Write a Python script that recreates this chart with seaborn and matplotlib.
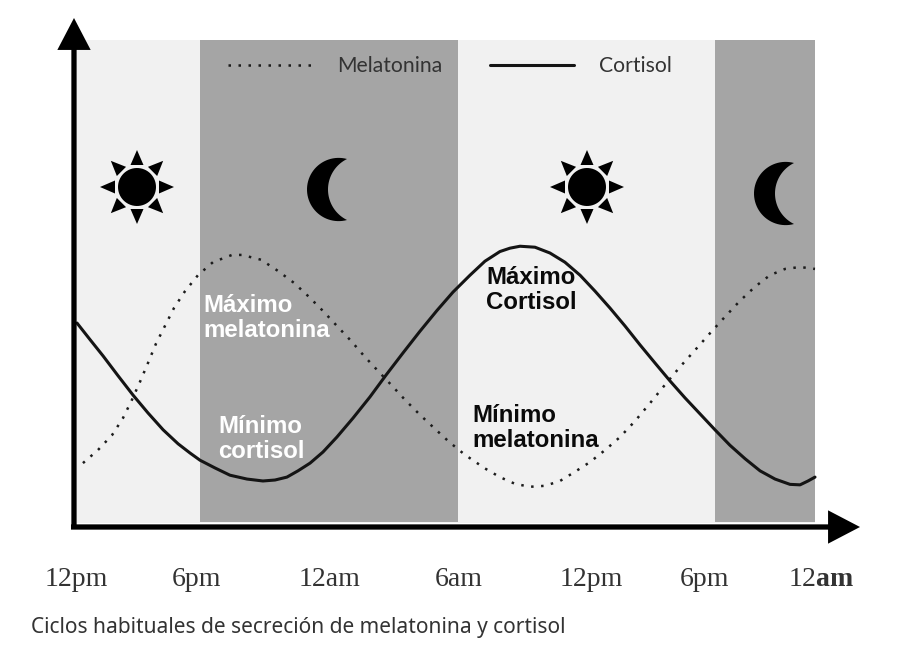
import numpy as np
import pandas as pd
import seaborn as sns
import matplotlib.pyplot as plt
from matplotlib.patches import Polygon

# hours since the first 12pm, level on a 0-100 scale
cortisol_hours = [0, 0.63, 1.27, 2.0, 2.73, 3.46, 4.2, 4.93, 5.51, 6.0, 6.73, 7.46, 8.29, 9.07, 9.66,
                  10.24, 10.78, 11.37, 12.0, 12.68, 13.46, 14.29, 15.07, 15.9, 16.73, 17.56, 18.34,
                  19.17, 19.9, 20.63, 21.12, 21.61, 22.34, 23.07, 23.8, 24.54, 25.27, 26.0, 26.73, 27.46,
                  28.2, 28.93, 29.66, 30.39, 31.12, 31.85, 32.59, 33.32, 34.05, 34.78, 35.27, 35.66, 36]
cortisol_level = [41.4, 38.0, 34.6, 30.5, 26.5, 22.8, 19.3, 16.4, 14.5, 13.0, 11.4, 9.9, 9.1, 8.7, 8.9,
                  9.5, 10.8, 12.4, 14.7, 17.8, 21.7, 26.1, 30.6, 35.2, 39.7, 44.0, 47.8,
                  51.3, 54.2, 56.2, 56.9, 57.3, 57.1, 55.9, 54.0, 51.3, 48.0, 44.5, 40.8, 36.9,
                  33.1, 29.4, 25.9, 22.6, 19.3, 16.1, 13.3, 10.8, 9.1, 8.0, 7.9, 8.7, 9.5]
melatonin_hours = [0.29, 1.02, 1.71, 2.24, 2.68, 3.07, 3.46, 3.85, 4.29, 4.73, 5.27, 5.9, 6.63, 7.56, 8.05,
                   8.98, 9.8, 10.59, 11.32, 12.0, 12.68, 13.37, 14.0, 14.68, 15.37, 16.0, 16.73, 17.41,
                   18.15, 18.93, 19.9, 20.63, 21.37, 22.1, 22.83, 23.56, 24.29, 25.02, 25.76, 26.49,
                   27.22, 27.95, 28.68, 29.41, 30.15, 30.88, 31.61, 32.34, 33.07, 33.8, 34.54, 35.27, 36]
melatonin_level = [12.4, 15.1, 18.2, 21.7, 25.5, 29.2, 33.1, 37.1, 40.8, 44.5, 48.0, 51.3, 54.0, 55.5, 55.5,
                   54.5, 52.2, 49.7, 46.8, 43.9, 40.8, 37.7, 34.6, 31.5, 28.4, 25.5, 22.4, 19.7,
                   16.8, 14.1, 11.3, 9.5, 8.1, 7.5, 7.7, 8.7, 10.6, 12.6, 15.1, 17.8,
                   21.1, 24.8, 28.6, 32.3, 35.8, 39.3, 42.7, 46.0, 48.9, 51.3, 52.6, 53.0, 52.6]
night_start = [6.0, 31.12]
night_end = [18.6, 36]
tick_hours = [-0.05, 5.85, 12.3, 18.6, 25.07, 30.63, 36.3]
tick_labels = ['12pm', '6pm', '12am', '6am', '12pm', '6pm', r'12$\mathbf{am}$']

W, H = 897, 659
LEFT, RIGHT, TOP, BOTTOM = 77, 815, 40, 523
AX_LEFT, AX_RIGHT = 60, 840  # a bit wider than the panel so the end ticks survive


def to_data(px, py):
    # picture pixels -> hours / level
    return ((np.asarray(px) - LEFT) / (RIGHT - LEFT) * 36,
            (BOTTOM - np.asarray(py)) / (BOTTOM - TOP) * 100)


def draw_shape(ax, px, py, zorder=4):
    x, y = to_data(px, py)
    ax.add_patch(Polygon(np.column_stack([x, y]), closed=True, fc='black', ec='none', zorder=zorder))


def draw_sun(ax, cx, cy):
    t = np.linspace(0, 2 * np.pi, 60)
    draw_shape(ax, cx + 19 * np.cos(t), cy + 19 * np.sin(t))
    for a in np.arange(8) * np.pi / 4:
        c, s = np.cos(a), np.sin(a)
        draw_shape(ax,
                   cx + np.array([22 * c - 6.5 * s, 37 * c, 22 * c + 6.5 * s]),
                   cy + np.array([22 * s + 6.5 * c, 37 * s, 22 * s - 6.5 * c]))


def moon_arc(tip_x, mid, half, left_x):
    # circle through both tips and the leftmost point
    sag = tip_x - left_x
    r = (half ** 2 + sag ** 2) / (2 * sag)
    cx = left_x + r
    start = np.arctan2(half, tip_x - cx)
    t = np.linspace(start, 2 * np.pi - start, 50)
    return cx + r * np.cos(t), mid + r * np.sin(t)


def draw_moon(ax, tip_x, top, bot, outer_x, inner_x):
    mid = (top + bot) / 2
    half = (bot - top) / 2
    ox, oy = moon_arc(tip_x, mid, half, outer_x)
    ix, iy = moon_arc(tip_x, mid, half, inner_x)
    draw_shape(ax, np.r_[ox, ix[::-1]], np.r_[oy, iy[::-1]])


def add_text(ax, px, py, s, **kw):
    x, y = to_data(px, py)
    ax.text(x, y, s, va='center', ha='left', zorder=5, **kw)


def add_arrow(ax, start, end):
    ax.annotate('', xy=to_data(*end), xytext=to_data(*start), annotation_clip=False, zorder=6,
                arrowprops=dict(fc='black', ec='black', lw=0, width=3.8, headwidth=24, headlength=23, shrink=0))


sns.set_theme(style='white')
plt.rcParams['font.family'] = ['Lato', 'DejaVu Sans']
plt.rcParams['mathtext.fontset'] = 'custom'
plt.rcParams['mathtext.rm'] = 'Liberation Serif'
plt.rcParams['mathtext.bf'] = 'Liberation Serif:bold'

fig = plt.figure(figsize=(W / 100, H / 100), dpi=100)
ax = fig.add_axes([AX_LEFT / W, 1 - BOTTOM / H, (AX_RIGHT - AX_LEFT) / W, (BOTTOM - TOP) / H])
sns.despine(ax=ax, left=True, bottom=True)

ax.axvspan(0, 36, color='#f1f1f1', lw=0, zorder=0)
for a, b in zip(night_start, night_end):
    ax.axvspan(a, b, ymin=0.002, color='#a5a5a5', lw=0, zorder=1)

melatonin = pd.DataFrame({'hour': melatonin_hours, 'level': melatonin_level})
cortisol = pd.DataFrame({'hour': cortisol_hours, 'level': cortisol_level})
sns.lineplot(data=melatonin, x='hour', y='level', ax=ax, color='#1c1c1c', lw=1.8, label='Melatonina',
             linestyle=(0, (1, 3)), zorder=3, estimator=None, sort=False)
sns.lineplot(data=cortisol, x='hour', y='level', ax=ax, color='#141414', lw=2.2, label='Cortisol',
             zorder=3, estimator=None, sort=False)

ax.set_xlabel('')
ax.set_ylabel('')
ax.set_yticks([])
ax.set_xticks(tick_hours, tick_labels, family='Liberation Serif', fontsize=20, color='#333333')
ax.tick_params(axis='x', length=0, pad=31.5)
ax.set_xlim(to_data(AX_LEFT, 0)[0], to_data(AX_RIGHT, 0)[0])
ax.set_ylim(0, 100)

leg_x = (228 - AX_LEFT) / (AX_RIGHT - AX_LEFT)
leg = ax.legend(loc='upper left', bbox_to_anchor=(leg_x, 0.967), ncol=2, frameon=False, fontsize=15.2,
                handlelength=3.98, handletextpad=1.18, columnspacing=2.27, borderpad=0, borderaxespad=0)
for t in leg.get_texts():
    t.set_color('#333333')

add_arrow(ax, (74, 529), (74, 18))
add_arrow(ax, (71, 527), (860, 527))

draw_sun(ax, 137, 187)
draw_sun(ax, 587, 187)
draw_moon(ax, 347, 159, 220, 307, 328)
draw_moon(ax, 794, 163, 224, 754, 775)

bold = dict(family='Liberation Sans', fontweight='bold', fontsize=17.3, linespacing=1.16)
add_text(ax, 203, 318, 'Máximo\nmelatonina', color='white', **bold)
add_text(ax, 218, 439, 'Mínimo\ncortisol', color='white', **bold)
add_text(ax, 486, 290, 'Máximo\nCortisol', color='#0a0a0a', **bold)
add_text(ax, 472, 428, 'Mínimo\nmelatonina', color='#0a0a0a', **bold)

fig.text(31 / W, 1 - 628 / H, 'Ciclos habituales de secreción de melatonina y cortisol',
         family='Noto Sans', fontsize=15.05, color='#333333', va='center', ha='left')

fig.savefig('out.png', dpi=100, facecolor='white')
